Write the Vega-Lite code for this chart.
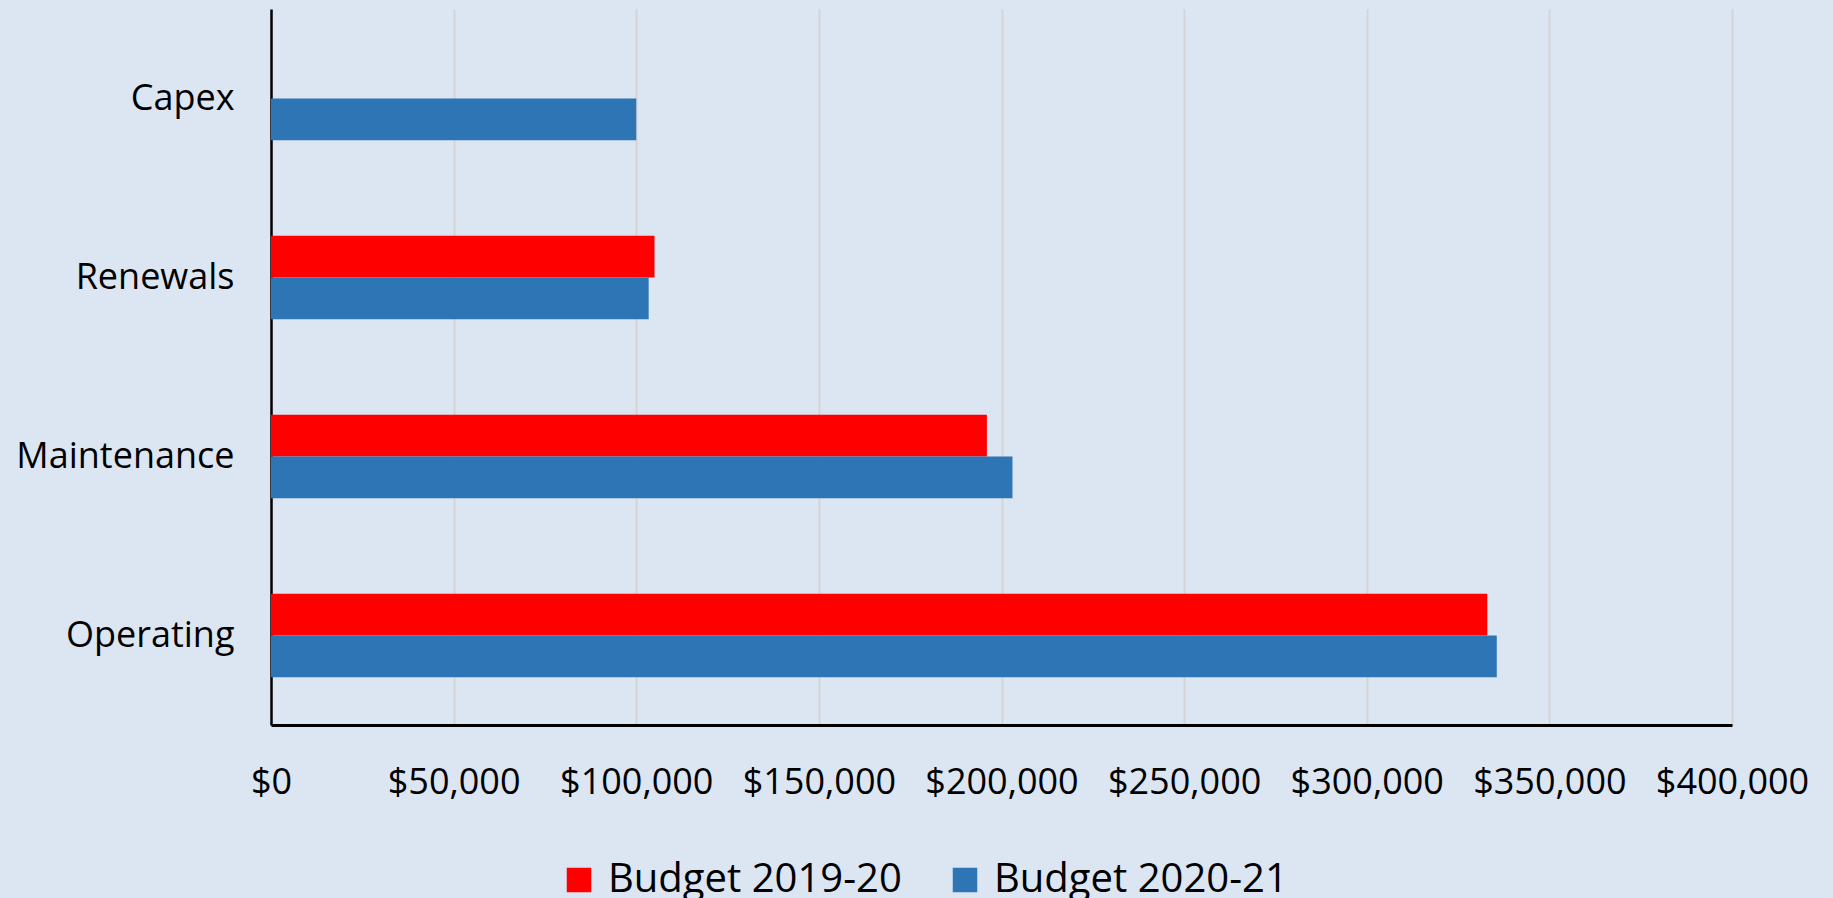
{
  "$schema": "https://vega.github.io/schema/vega-lite/v6.json",
  "width": 1461,
  "height": 716,
  "autosize": {"type": "none"},
  "padding": {"left": 271, "top": 9, "right": 101, "bottom": 173},
  "background": "#dce6f2",
  "config": {
    "view": {"stroke": null},
    "font": "Open Sans",
    "axis": {"labelFont": "Open Sans", "labelColor": "#000000"},
    "legend": {"labelFont": "Open Sans"}
  },
  "data": {
    "values": [
      {"category": "Capex", "series": "Budget 2020-21", "value": 100000},
      {"category": "Renewals", "series": "Budget 2019-20", "value": 105000},
      {"category": "Renewals", "series": "Budget 2020-21", "value": 103400},
      {"category": "Maintenance", "series": "Budget 2019-20", "value": 196000},
      {"category": "Maintenance", "series": "Budget 2020-21", "value": 203000},
      {"category": "Operating", "series": "Budget 2019-20", "value": 333000},
      {"category": "Operating", "series": "Budget 2020-21", "value": 335600}
    ]
  },
  "mark": {"type": "bar"},
  "encoding": {
    "y": {
      "field": "category",
      "type": "nominal",
      "sort": ["Capex", "Renewals", "Maintenance", "Operating"],
      "scale": {"paddingInner": 0.534, "paddingOuter": 0.267},
      "axis": {
        "title": null,
        "domain": true,
        "domainColor": "#000000",
        "domainWidth": 2.5,
        "ticks": false,
        "tickSize": 0,
        "labelPadding": 37,
        "labelFontSize": 36,
        "labelLimit": 0,
        "grid": false
      }
    },
    "yOffset": {
      "field": "series",
      "type": "nominal",
      "sort": ["Budget 2019-20", "Budget 2020-21"],
      "scale": {"paddingInner": 0, "paddingOuter": 0}
    },
    "x": {
      "field": "value",
      "type": "quantitative",
      "scale": {"domain": [0, 400000], "nice": false},
      "axis": {
        "title": null,
        "values": [0, 50000, 100000, 150000, 200000, 250000, 300000, 350000, 400000],
        "format": "$,.0f",
        "domain": true,
        "domainColor": "#000000",
        "domainWidth": 3,
        "ticks": false,
        "tickSize": 0,
        "labelPadding": 40,
        "labelFontSize": 36,
        "labelLimit": 0,
        "grid": true,
        "gridColor": "#d4d4d4",
        "gridWidth": 2,
        "labelFlush": false
      }
    },
    "color": {
      "field": "series",
      "type": "nominal",
      "sort": ["Budget 2019-20", "Budget 2020-21"],
      "scale": {"domain": ["Budget 2019-20", "Budget 2020-21"], "range": ["#ff0000", "#2e75b6"]},
      "legend": {
        "title": null,
        "orient": "none",
        "direction": "horizontal",
        "legendX": 288,
        "legendY": 851,
        "symbolType": "square",
        "symbolSize": 600,
        "symbolStrokeWidth": 0,
        "labelFontSize": 40,
        "labelLimit": 0,
        "labelOffset": 9,
        "columnPadding": 43,
        "labelColor": "#000000"
      }
    }
  }
}
